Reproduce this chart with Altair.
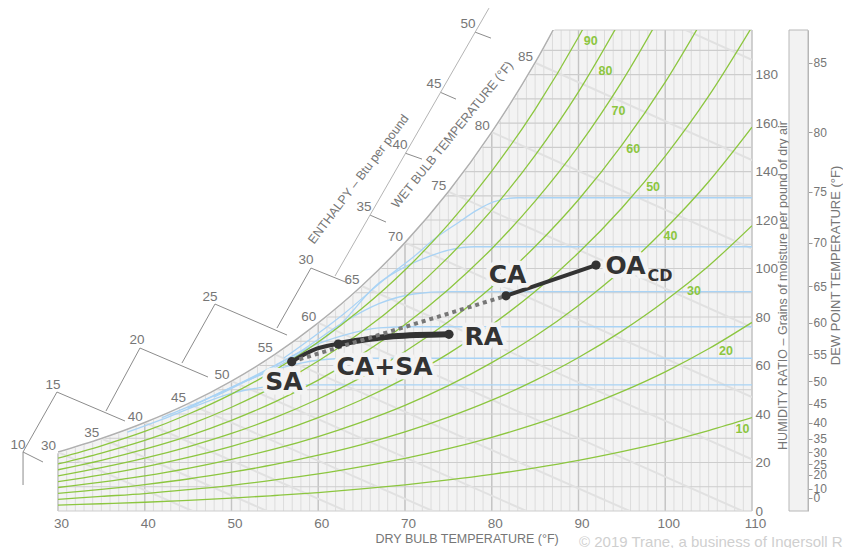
import altair as alt
import pandas as pd

SANS = "Liberation Sans, Arial, sans-serif"
BOLD = "DejaVu Sans, Liberation Sans, sans-serif"
GREY = "#767676"
GREEN = "#8cc63f"
BLUE = "#a9d3f5"
DARK = "#333333"
PLOT_BG = "#f3f3f3"

W_PX, H_PX = 694, 481
Y_TOP = 198.4  # grains at the top edge of the plot

# Dry-bulb temperatures (°F) at which the curves are tabulated
TEMPS = [30, 35, 40, 45, 50, 55, 60, 65, 70, 75, 80, 85, 90, 95, 100, 105, 110]

# Saturation humidity ratio (grains / lb dry air), 30..90 °F
SAT_W = [24.3, 29.9, 36.5, 44.3, 53.6, 64.6, 77.6, 92.8, 110.7, 131.7, 156.3, 184.9, 218.3]

# Relative-humidity curves (grains / lb dry air) along TEMPS
RH10 = [2.4, 3.0, 3.6, 4.4, 5.3, 6.4, 7.6, 9.1, 10.8, 12.8, 15.1, 17.8, 20.9, 24.5, 28.5, 33.2, 38.5]
RH20 = [4.8, 6.0, 7.2, 8.8, 10.6, 12.8, 15.3, 18.3, 21.7, 25.7, 30.4, 35.8, 42.0, 49.2, 57.4, 66.9, 77.8]
RH30 = [7.3, 8.9, 10.9, 13.2, 16.0, 19.2, 23.0, 27.4, 32.6, 38.7, 45.7, 53.9, 63.3, 74.2, 86.7, 101.1, 117.7]
RH40 = [9.7, 11.9, 14.5, 17.6, 21.3, 25.6, 30.7, 36.7, 43.6, 51.7, 61.2, 72.1, 84.8, 99.4, 116.4, 135.8, 158.3]
RH50 = [12.1, 14.9, 18.2, 22.1, 26.7, 32.1, 38.5, 45.9, 54.7, 64.9, 76.8, 90.5, 106.5, 125.0, 146.4, 171.1, 199.7]
RH60 = [14.5, 17.9, 21.8, 26.5, 32.0, 38.5, 46.2, 55.2, 65.8, 78.1, 92.4, 109.1, 128.4, 150.9, 176.9, 207.0]
RH70 = [17.0, 20.9, 25.5, 30.9, 37.4, 45.0, 54.0, 64.6, 76.9, 91.4, 108.2, 127.8, 150.5, 177.1, 207.8]
RH80 = [19.4, 23.9, 29.1, 35.4, 42.8, 51.5, 61.9, 73.9, 88.1, 104.7, 124.1, 146.7, 172.9, 203.5]
RH90 = [21.8, 26.9, 32.8, 39.9, 48.2, 58.1, 69.7, 83.4, 99.4, 118.2, 140.2, 165.7, 195.5, 230.3]
RH_LEVELS = [10, 20, 30, 40, 50, 60, 70, 80, 90]

# Where each RH curve is labelled
RH_LABEL_T = [108.9, 107.0, 103.3, 100.6, 98.6, 96.3, 94.6, 93.1, 91.4]
RH_LABEL_W = [33.8, 65.9, 90.8, 113.5, 133.5, 149.4, 165.1, 181.6, 193.9]

# Wet-bulb lines: start on saturation, reach zero moisture at WB_ZERO_T
WB_TEMPS = [30, 35, 40, 45, 50, 55, 60, 65, 70, 75, 80, 85, 90]
WB_ZERO_T = [45.5, 54.1, 63.2, 73.2, 84.0, 95.9, 108.9, 123.4, 139.5, 157.4, 177.5, 200.1, 225.5]
WB_LABELS = [30, 35, 40, 45, 50, 55, 60, 65, 70, 75, 80, 85]

# Blue constant-moisture curves
BLUE_A_T = [38, 42, 46, 50, 54, 58, 62, 110]
BLUE_A_W = [32.5, 37.8, 43.5, 48.5, 51.2, 52.0, 52.0, 52.0]
BLUE_B_T = [42, 46, 50, 54, 58, 62, 66, 110]
BLUE_B_W = [38.5, 44.5, 51.0, 57.0, 61.0, 62.8, 63.0, 63.0]
BLUE_C_T = [45, 50, 55, 59, 63, 67, 71, 110]
BLUE_C_W = [42.5, 51.0, 60.0, 67.5, 72.5, 75.5, 76.0, 76.0]
BLUE_D_T = [48, 53, 58, 63, 67, 71, 75, 110]
BLUE_D_W = [47.0, 56.0, 66.0, 78.0, 85.5, 89.5, 90.5, 90.5]
BLUE_E_T = [52, 57, 62, 67, 70, 72.5, 75, 78, 110]
BLUE_E_W = [54.0, 63.0, 75.0, 94.0, 100.7, 104.6, 107.6, 109.0, 109.0]
BLUE_F_T = [56, 63, 68, 71, 73.5, 76, 78.3, 80.2, 83, 110]
BLUE_F_W = [63.0, 81.5, 96.6, 104.9, 112.5, 118.6, 124.1, 127.5, 129.2, 129.2]

# Enthalpy scale (Btu/lb) drawn outside the saturation curve: (T1, W1, T2, W2)
ENTH_SEGMENTS = [
    (25.97, 10.72, 25.97, 24.33),
    (25.97, 24.33, 29.88, 49.07),
    (25.97, 24.33, 28.27, 20.21),
    (29.88, 49.07, 37.72, 37.11),
    (35.53, 41.24, 39.45, 67.22),
    (39.45, 67.22, 47.29, 55.26),
    (44.29, 61.03, 48.10, 85.36),
    (48.10, 85.36, 56.40, 72.58),
    (55.24, 75.46, 59.16, 100.21),
    (59.16, 100.21, 63.43, 94.02),
    (65.97, 122.06, 67.81, 119.18),
    (70.00, 147.63, 71.96, 145.15),
    (74.03, 172.78, 75.88, 169.90),
    (78.07, 197.53, 79.91, 195.05),
]
ENTH_AXIS = [(61.93, 96.91, 79.68, 207.42)]
ENTH_VALUES = [10, 15, 20, 25, 30, 35, 40, 45, 50]
ENTH_LABEL_T = [25.39, 29.42, 39.11, 47.52, 58.59, 65.27, 69.42, 73.34, 77.26]
ENTH_LABEL_W = [27.22, 51.96, 70.52, 88.25, 103.51, 125.36, 150.93, 176.08, 200.82]

# Dew point scale: dew point (°F) and its saturation moisture (grains)
DP_TEMPS = [0, 10, 20, 25, 30, 35, 40, 45, 50, 55, 60, 65, 70, 75, 80, 85]
DP_GRAINS = [5.5, 9.1, 15.0, 19.3, 24.3, 29.9, 36.5, 44.3, 53.6, 64.6, 77.6, 92.8, 110.7, 131.7, 156.3, 184.9]

# Air-handling states
STATE_NAMES = ["SA", "CA+SA", "RA", "CA", "OA"]
STATE_T = [56.94, 62.31, 75.07, 81.64, 92.02]
STATE_W = [61.57, 68.87, 72.87, 88.74, 101.44]
MIX_LOW_T = [56.94, 59.82, 62.31]
MIX_LOW_W = [61.57, 66.93, 68.87]
MIX_RA_T = [62.31, 68.65, 75.07]
MIX_RA_W = [68.87, 72.04, 72.87]

STATE_LABELS = ["SA", "CA+SA", "RA", "CA", "OA"]
STATE_LABEL_T = [56.05, 67.64, 79.07, 81.82, 95.42]
STATE_LABEL_W = [53.2, 59.2, 71.7, 97.3, 101.1]
SUB_LABEL = ["CD"]
SUB_LABEL_T = [99.39]
SUB_LABEL_W = [97.1]

COPYRIGHT = "© 2019 Trane, a business of Ingersoll Rand"

# ---------------------------------------------------------------- frames
sat_df = pd.DataFrame({"T": TEMPS[:len(SAT_W)], "W": SAT_W})

rh_rows = []
for level, values in zip(RH_LEVELS, [RH10, RH20, RH30, RH40, RH50, RH60, RH70, RH80, RH90]):
    for t, w in zip(TEMPS, values):
        rh_rows.append({"rh": level, "T": t, "W": w})
rh_df = pd.DataFrame(rh_rows)
rh_label_df = pd.DataFrame({"T": RH_LABEL_T, "W": RH_LABEL_W, "label": [str(v) for v in RH_LEVELS]})

wb_rows = []
for t, w, t0 in zip(WB_TEMPS, SAT_W, WB_ZERO_T):
    wb_rows.append({"wb": t, "T": t, "W": w})
    wb_rows.append({"wb": t, "T": t0, "W": 0.0})
wb_df = pd.DataFrame(wb_rows)
wb_label_df = pd.DataFrame({"T": WB_LABELS, "W": SAT_W[:len(WB_LABELS)], "label": [str(v) for v in WB_LABELS]})

blue_rows = []
for name, ts, ws in [("A", BLUE_A_T, BLUE_A_W), ("B", BLUE_B_T, BLUE_B_W), ("C", BLUE_C_T, BLUE_C_W),
                     ("D", BLUE_D_T, BLUE_D_W), ("E", BLUE_E_T, BLUE_E_W), ("F", BLUE_F_T, BLUE_F_W)]:
    for t, w in zip(ts, ws):
        blue_rows.append({"curve": name, "T": t, "W": w})
blue_df = pd.DataFrame(blue_rows)

enth_df = pd.DataFrame(ENTH_SEGMENTS, columns=["T1", "W1", "T2", "W2"])
enth_axis_df = pd.DataFrame(ENTH_AXIS, columns=["T1", "W1", "T2", "W2"])
enth_label_df = pd.DataFrame({"T": ENTH_LABEL_T, "W": ENTH_LABEL_W, "label": [str(v) for v in ENTH_VALUES]})

xs = alt.Scale(domain=[30, 110], nice=False, zero=False)
ys = alt.Scale(domain=[0, Y_TOP], nice=False, zero=False)

# one shared dry-bulb axis definition, used by every layer with an x field
x_axis = alt.Axis(
    values=list(range(30, 111, 10)), grid=False, ticks=False, tickSize=0, domain=False,
    labelFont=SANS, labelFontSize=13.5, labelColor=GREY, labelPadding=5, labelOffset=3,
    labelFlush=False,
    title="DRY BULB TEMPERATURE (°F)", titleFont=SANS, titleFontSize=12.5,
    titleFontWeight="normal", titleColor=GREY, titleX=317, titleY=27,
    titleAlign="left", titleBaseline="middle",
)
y_axis = alt.Axis(
    orient="right", values=list(range(0, 181, 20)), grid=False, ticks=False, tickSize=0,
    domain=False, labelFont=SANS, labelFontSize=13.5, labelColor=GREY, labelPadding=3,
    labelAlign="left", labelBaseline="middle",
    title="HUMIDITY RATIO – Grains of moisture per pound of dry air",
    titleFont=SANS, titleFontSize=12.5, titleFontWeight="normal", titleColor=GREY,
    titleAngle=270, titleX=30, titleY=255, titleAlign="center", titleBaseline="middle",
)
dp_expr = "[{}][indexof([{}], datum.value)]".format(
    ",".join(str(v) for v in DP_TEMPS), ",".join(str(v) for v in DP_GRAINS))
dp_axis = alt.Axis(
    orient="right", offset=56, values=DP_GRAINS, labelExpr=dp_expr, grid=False,
    ticks=True, tickSize=4, tickColor="#9a9a9a", domain=True, domainColor="#b5b5b5",
    labelFont=SANS, labelFontSize=12, labelColor=GREY, labelPadding=1,
    labelOverlap=False, labelAlign="left", labelBaseline="middle",
    title="DEW POINT TEMPERATURE (°F)", titleFont=SANS, titleFontSize=13,
    titleFontWeight="normal", titleColor=GREY, titleAngle=270, titleX=27, titleY=235,
    titleAlign="center", titleBaseline="middle",
)


def ex(field="T"):
    return alt.X(f"{field}:Q", scale=xs, axis=x_axis)


def ey(field="W"):
    return alt.Y(f"{field}:Q", scale=ys, axis=None)


# ---------------------------------------------------------------- layers
minor_grid = alt.Chart(pd.DataFrame({"T": list(range(30, 111))})).mark_rule(
    color="#dcdcdc", strokeWidth=1).encode(x=ex())
major_grid = alt.Chart(pd.DataFrame({"T": list(range(30, 111, 10))})).mark_rule(
    color="#c4c4c4", strokeWidth=1.4).encode(x=ex())
h_grid = alt.Chart(pd.DataFrame({"W": list(range(0, 191, 10)) + [Y_TOP]})).mark_rule(
    color="#cdcdcd", strokeWidth=1.1).encode(y=alt.Y("W:Q", scale=ys, axis=y_axis))

wb_lines = alt.Chart(wb_df).mark_line(color="#e1e1e1", strokeWidth=2, clip=True).encode(
    x=ex(), y=ey(), detail="wb:N")

# white region above the saturation curve hides the grid there
above_sat = alt.Chart(sat_df).mark_area(
    color="white", stroke="white", strokeWidth=2, interpolate="monotone", opacity=1
).encode(
    x=ex(),
    y=alt.Y("W:Q", scale=ys, axis=None, stack=False),
    y2=alt.datum(Y_TOP + 1.5),
)

blue_lines = alt.Chart(blue_df).mark_line(
    color=BLUE, strokeWidth=1.3, interpolate="monotone", clip=True
).encode(x=ex(), y=ey(), detail="curve:N")

rh_lines = alt.Chart(rh_df).mark_line(
    color=GREEN, strokeWidth=1.3, interpolate="monotone", clip=True
).encode(x=ex(), y=ey(), detail="rh:N")

sat_line = alt.Chart(sat_df).mark_line(
    color="#b0b0b0", strokeWidth=1.5, interpolate="monotone", clip=True
).encode(x=ex(), y=ey())

wb_text = alt.Chart(wb_label_df).mark_text(
    align="right", baseline="middle", dx=-2, dy=-6, font=SANS, fontSize=13.5, color=GREY
).encode(x=ex(), y=ey(), text="label:N")

enth_lines = alt.Chart(enth_df).mark_rule(color="#8c8c8c", strokeWidth=1).encode(
    x=ex("T1"), y=ey("W1"), x2="T2:Q", y2="W2:Q")
enth_axis_line = alt.Chart(enth_axis_df).mark_rule(color="#b4b4b4", strokeWidth=1).encode(
    x=ex("T1"), y=ey("W1"), x2="T2:Q", y2="W2:Q")
enth_text = alt.Chart(enth_label_df).mark_text(
    align="center", baseline="middle", font=SANS, fontSize=13.5, color=GREY
).encode(x=ex(), y=ey(), text="label:N")

enth_title = alt.Chart(pd.DataFrame({"T": [64.64], "W": [136.9], "label": ["ENTHALPY – Btu per pound"]})).mark_text(
    align="center", baseline="middle", angle=307, font=SANS, fontSize=12.5, color=GREY
).encode(x=ex(), y=ey(), text="label:N")
wb_title = alt.Chart(pd.DataFrame({"T": [75.45], "W": [155.2], "label": ["WET BULB TEMPERATURE (°F)"]})).mark_text(
    align="center", baseline="middle", angle=309, font=SANS, fontSize=12.5, color=GREY
).encode(x=ex(), y=ey(), text="label:N")

rh_text = alt.Chart(rh_label_df).mark_text(
    align="center", baseline="middle", font=SANS, fontSize=12.5, fontWeight="bold", color=GREEN
).encode(x=ex(), y=ey(), text="label:N")

# process lines
low_mix = alt.Chart(pd.DataFrame({"T": MIX_LOW_T, "W": MIX_LOW_W})).mark_line(
    color=DARK, strokeWidth=4, interpolate="monotone", strokeCap="round").encode(x=ex(), y=ey())
ra_mix = alt.Chart(pd.DataFrame({"T": MIX_RA_T, "W": MIX_RA_W})).mark_line(
    color=DARK, strokeWidth=6, interpolate="monotone", strokeCap="round").encode(x=ex(), y=ey())
ca_oa = alt.Chart(pd.DataFrame({"T": [STATE_T[3], STATE_T[4]], "W": [STATE_W[3], STATE_W[4]]})).mark_line(
    color=DARK, strokeWidth=4, strokeCap="round").encode(x=ex(), y=ey())
sa_ca = alt.Chart(pd.DataFrame({"T": [STATE_T[0], STATE_T[3]], "W": [STATE_W[0], STATE_W[3]]})).mark_line(
    color="#777777", strokeWidth=4, strokeDash=[4, 4]).encode(x=ex(), y=ey())
dots = alt.Chart(pd.DataFrame({"T": STATE_T, "W": STATE_W, "name": STATE_NAMES})).mark_circle(
    size=85, color=DARK, opacity=1).encode(x=ex(), y=ey())

label_df = pd.DataFrame({"T": STATE_LABEL_T, "W": STATE_LABEL_W, "label": STATE_LABELS})
sub_df = pd.DataFrame({"T": SUB_LABEL_T, "W": SUB_LABEL_W, "label": SUB_LABEL})
label_halo = alt.Chart(label_df).mark_text(
    align="center", baseline="middle", font=BOLD, fontSize=25, fontWeight="bold",
    color=PLOT_BG, stroke=PLOT_BG, strokeWidth=9, strokeJoin="round"
).encode(x=ex(), y=ey(), text="label:N")
labels = alt.Chart(label_df).mark_text(
    align="center", baseline="middle", font=BOLD, fontSize=25, fontWeight="bold", color=DARK
).encode(x=ex(), y=ey(), text="label:N")
sub_labels = alt.Chart(sub_df).mark_text(
    align="center", baseline="middle", font=BOLD, fontSize=16, fontWeight="bold", color=DARK
).encode(x=ex(), y=ey(), text="label:N")

# dew point scale frame and footer
dp_box = alt.Chart(pd.DataFrame({"k": [0]})).mark_rect(
    fill="#f2f2f2", stroke="#b8b8b8", strokeWidth=1
).encode(x=alt.value(731), x2=alt.value(750), y=alt.value(0), y2=alt.value(H_PX))
footer = alt.Chart(pd.DataFrame({"label": [COPYRIGHT]})).mark_text(
    align="left", baseline="middle", font=SANS, fontSize=15, color="#cfcfcf"
).encode(x=alt.value(521), y=alt.value(512), text="label:N")

dew = alt.Chart(pd.DataFrame({"W": DP_GRAINS})).mark_rule(opacity=0).encode(
    y=alt.Y("W:Q", scale=alt.Scale(domain=[0, Y_TOP], nice=False, zero=False), axis=dp_axis))

# every layer uses the same explicit y domain, so independent scales line up;
# this lets the dew point scale carry its own axis
chart = alt.layer(
    minor_grid, major_grid, h_grid, wb_lines, above_sat, blue_lines, rh_lines, sat_line,
    wb_text, enth_lines, enth_axis_line, enth_text, enth_title, wb_title, rh_text,
    low_mix, ra_mix, ca_oa, sa_ca, dots, label_halo, labels, sub_labels, dp_box, footer, dew,
).resolve_scale(y="independent").properties(
    width=W_PX, height=H_PX,
    padding={"left": 58, "top": 30, "right": 91, "bottom": 37},
    autosize=alt.AutoSizeParams(type="none"),
    background="white",
).configure_view(fill=PLOT_BG, strokeWidth=0)

chart.save("out.html", embed_options={"renderer": "svg", "actions": False})
